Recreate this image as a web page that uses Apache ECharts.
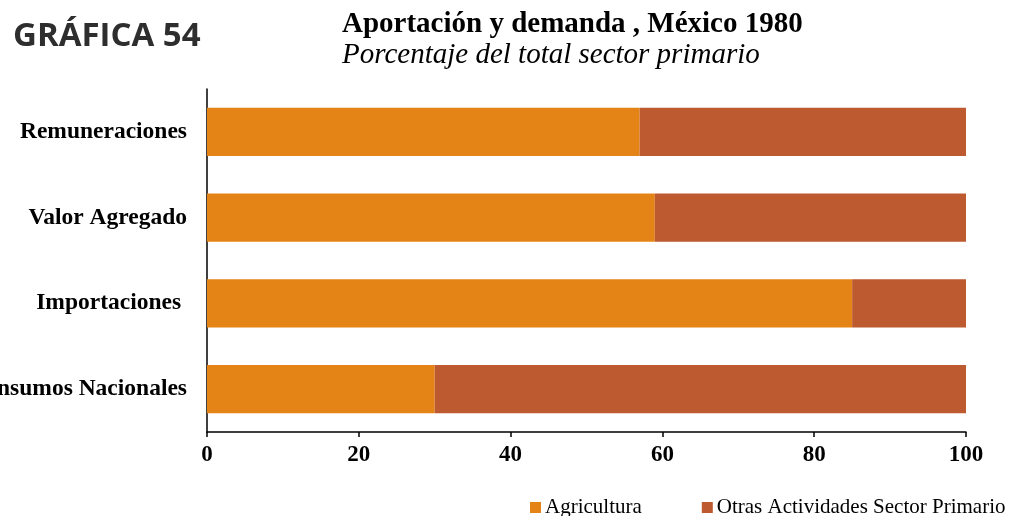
<!DOCTYPE html>
<html><head><meta charset="utf-8">
<script src="https://cdn.jsdelivr.net/npm/echarts@6/dist/echarts.min.js"></script>
<style>html,body{margin:0;padding:0;background:#fff}#c{width:1013px;height:516px}</style>
</head><body><div id="c"></div>
<script>
const categories = ['Insumos Nacionales', 'Importaciones ', 'Valor Agregado', 'Remuneraciones'];
const agricultura = [30, 85, 59, 57];
const otras = [70, 15, 41, 43];
const xTicks = [0, 20, 40, 60, 80, 100];

const chart = echarts.init(document.getElementById('c'));
const serif = 'Liberation Serif';
chart.setOption({
  animation: false,
  title: [
    {text: 'GRÁFICA 54', left: 8, top: 15, textStyle: {fontFamily: 'Open Sans', fontWeight: 'bold', fontSize: 33, color: '#2e2e2e'}},
    {text: 'Aportación y demanda , México 1980', left: 337, top: 5, textStyle: {fontFamily: serif, fontWeight: 'bold', fontSize: 29, color: '#000'}},
    {text: 'Porcentaje del total sector primario', left: 337, top: 36, textStyle: {fontFamily: serif, fontStyle: 'italic', fontWeight: 'normal', fontSize: 29, color: '#000'}}
  ],
  legend: {
    top: 497, left: 530, padding: 0, itemGap: 60, itemWidth: 11, itemHeight: 11, icon: 'rect',
    textStyle: {fontFamily: serif, fontSize: 21, color: '#000', padding: [0, 0, 0, -1]},
    data: ['Agricultura', 'Otras Actividades Sector Primario']
  },
  grid: {left: 207, right: 47, top: 89, bottom: 84, containLabel: false, outerBoundsMode: 'none'},
  xAxis: {
    type: 'value', min: 0, max: 100, interval: 20,
    axisLine: {show: true, lineStyle: {color: '#000', width: 1.5}},
    axisTick: {show: true, length: 5, lineStyle: {color: '#000', width: 1.5}},
    splitLine: {show: false},
    axisLabel: {fontFamily: serif, fontWeight: 'bold', fontSize: 23, color: '#000', margin: 12,
      formatter: v => xTicks.includes(v) ? String(v) : ''}
  },
  yAxis: {
    type: 'category', data: categories,
    axisLine: {show: true, lineStyle: {color: '#000', width: 1.5}},
    axisTick: {show: false},
    axisLabel: {fontFamily: serif, fontWeight: 'bold', fontSize: 23.5, color: '#000', margin: 20}
  },
  series: [
    {name: 'Agricultura', type: 'bar', stack: 't', data: agricultura, barWidth: '56%',
      itemStyle: {color: '#E58416'}},
    {name: 'Otras Actividades Sector Primario', type: 'bar', stack: 't', data: otras, barWidth: '56%',
      itemStyle: {color: '#BD5A2F'}}
  ]
});
</script></body></html>
